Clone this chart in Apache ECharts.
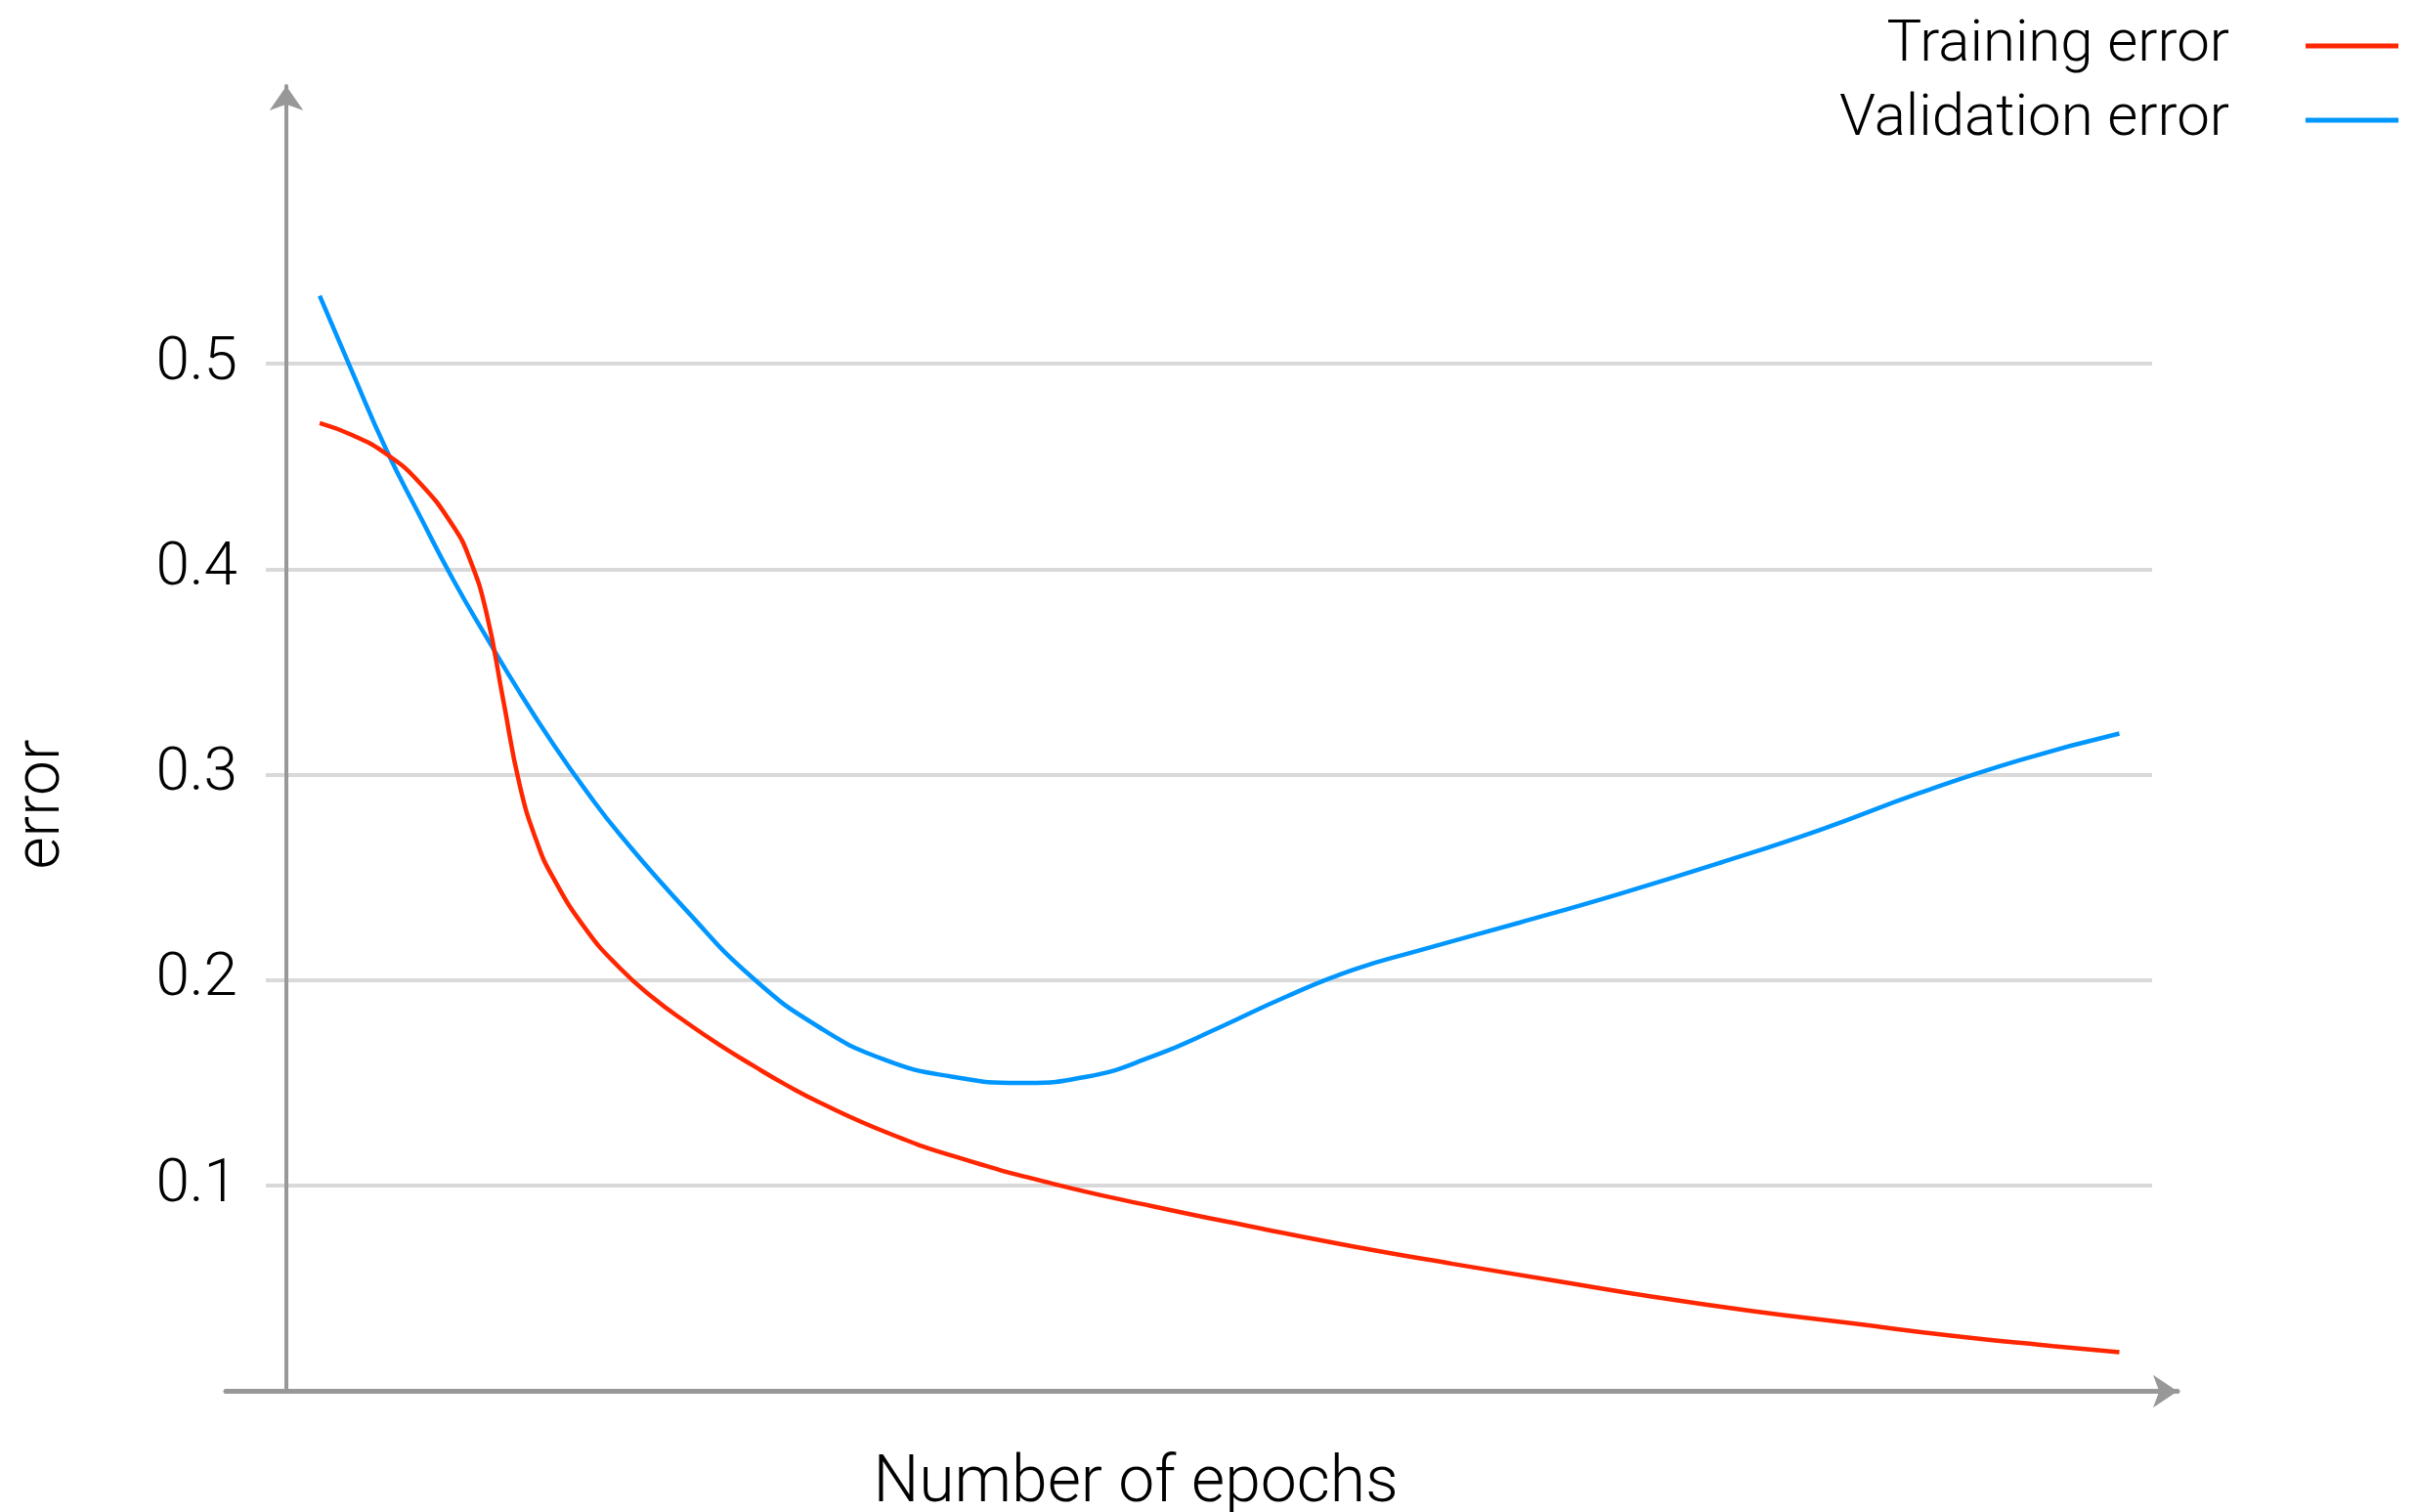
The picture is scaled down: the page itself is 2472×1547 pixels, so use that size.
<!DOCTYPE html>
<html>
<head>
<meta charset="utf-8">
<title>Training vs validation error</title>
<script src="https://cdn.jsdelivr.net/npm/echarts@6/dist/echarts.min.js"></script>
<style>
  html, body { margin: 0; padding: 0; background: #fff; }
  #chart { width: 2472px; height: 1547px; }
</style>
</head>
<body>
<div id="chart"></div>
<script>
// x positions are in half-epoch steps (the source has no x tick labels)
const trainX = [2, 4, 6, 8, 10, 11, 12, 13, 14, 15, 16, 18, 20, 22, 24, 26, 28, 30, 32, 36, 40, 46, 52, 58, 64, 70, 76, 82, 88, 94, 100, 106, 110]
const trainErr = [0.471, 0.465, 0.456, 0.442, 0.421, 0.405, 0.379, 0.337, 0.295, 0.268, 0.250, 0.2245, 0.206, 0.1915, 0.1795, 0.1685, 0.1585, 0.149, 0.1405, 0.126, 0.1145, 0.101, 0.090, 0.080, 0.0705, 0.062, 0.054, 0.046, 0.039, 0.033, 0.027, 0.022, 0.019]

const validX = [2, 4, 6, 8, 10, 12, 14, 16, 18, 20, 24, 28, 32, 36, 40, 44, 48, 52, 56, 60, 64, 68, 74, 80, 86, 92, 98, 104, 110]
const validErr = [0.533, 0.495, 0.458, 0.426, 0.395, 0.367, 0.340, 0.315, 0.292, 0.271, 0.234, 0.201, 0.177, 0.161, 0.153, 0.150, 0.153, 0.163, 0.177, 0.192, 0.205, 0.2145, 0.228, 0.242, 0.257, 0.273, 0.291, 0.307, 0.320]

const yTicks = [0.1, 0.2, 0.3, 0.4, 0.5]
const seriesNames = ['Training error', 'Validation error']
const axisNames = { x: 'Number of epochs', y: 'error' }

const FONT = '"Helvetica Neue", Roboto, "Liberation Sans", sans-serif'
const AXIS_GREY = '#989898'
const GRID_GREY = '#d9d9d9'
const RED = '#ff2600'
const BLUE = '#0096ff'

const X_MIN = -3.636
const X_MAX = 113.49
const Y_MAX = 0.635
const GRIDLINE_MAX = 0.55

const toPairs = (xs, ys) => xs.map((x, i) => [x, ys[i]])

const chart = echarts.init(document.getElementById('chart'))

chart.setOption({
  animation: false,
  backgroundColor: '#fff',
  grid: [
    // axes + curves
    { left: 231, right: 244, top: 88, bottom: 123.5 },
    // only the horizontal reference lines and their labels
    { left: 272, right: 270, top: 266.85, bottom: 123.5 },
  ],
  legend: {
    orient: 'vertical',
    right: 13,
    top: 12,
    align: 'right',
    icon: 'rect',
    itemWidth: 95,
    itemHeight: 5,
    itemGap: 16,
    selectedMode: false,
    textStyle: {
      fontFamily: FONT,
      fontWeight: 300,
      fontSize: 60,
      lineHeight: 60,
      color: '#000',
      padding: [0, 73, 0, 0],
    },
    data: seriesNames,
  },
  xAxis: [
    {
      type: 'value',
      gridIndex: 0,
      min: X_MIN,
      max: X_MAX,
      axisLine: {
        show: true,
        symbol: ['none', 'arrow'],
        symbolSize: [25, 25],
        lineStyle: { color: AXIS_GREY, width: 5 },
      },
      axisTick: { show: false },
      axisLabel: { show: false },
      splitLine: { show: false },
    },
    {
      type: 'value',
      gridIndex: 1,
      show: false,
    },
  ],
  yAxis: [
    {
      type: 'value',
      gridIndex: 0,
      min: 0,
      max: Y_MAX,
      axisLine: {
        show: true,
        onZero: true,
        symbol: ['none', 'arrow'],
        symbolSize: [26, 25],
        lineStyle: { color: AXIS_GREY, width: 4 },
      },
      axisTick: { show: false },
      axisLabel: { show: false },
      splitLine: { show: false },
    },
    {
      type: 'value',
      gridIndex: 1,
      min: 0,
      max: GRIDLINE_MAX,
      interval: 0.1,
      axisLine: { show: false },
      axisTick: { show: false },
      axisLabel: {
        margin: 29,
        fontFamily: FONT,
        fontWeight: 300,
        fontSize: 62,
        color: '#000',
        padding: [8, 0, 0, 0],
        formatter: v => {
          const hit = yTicks.find(t => Math.abs(t - v) < 1e-6)
          return hit === undefined ? '' : String(hit)
        },
      },
      splitLine: {
        show: true,
        lineStyle: { color: GRID_GREY, width: 4 },
        showMinLine: false,
        showMaxLine: false,
      },
    },
  ],
  graphic: [
    {
      type: 'text',
      x: 44,
      y: 823,
      rotation: Math.PI / 2,
      style: {
        text: axisNames.y,
        font: `300 64px ${FONT}`,
        fill: '#000',
        align: 'center',
        verticalAlign: 'middle',
      },
    },
    {
      type: 'text',
      x: 1162,
      y: 1519,
      style: {
        text: axisNames.x,
        font: `300 66px ${FONT}`,
        fill: '#000',
        align: 'center',
        verticalAlign: 'middle',
      },
    },
  ],
  series: [
    {
      name: seriesNames[0],
      type: 'line',
      xAxisIndex: 0,
      yAxisIndex: 0,
      data: toPairs(trainX, trainErr),
      showSymbol: false,
      smooth: 0.5,
      color: RED,
      lineStyle: { color: RED, width: 4.5 },
      z: 3,
    },
    {
      name: seriesNames[1],
      type: 'line',
      xAxisIndex: 0,
      yAxisIndex: 0,
      data: toPairs(validX, validErr),
      showSymbol: false,
      smooth: 0.5,
      color: BLUE,
      lineStyle: { color: BLUE, width: 4.5 },
      z: 2,
    },
  ],
})
</script>
</body>
</html>
